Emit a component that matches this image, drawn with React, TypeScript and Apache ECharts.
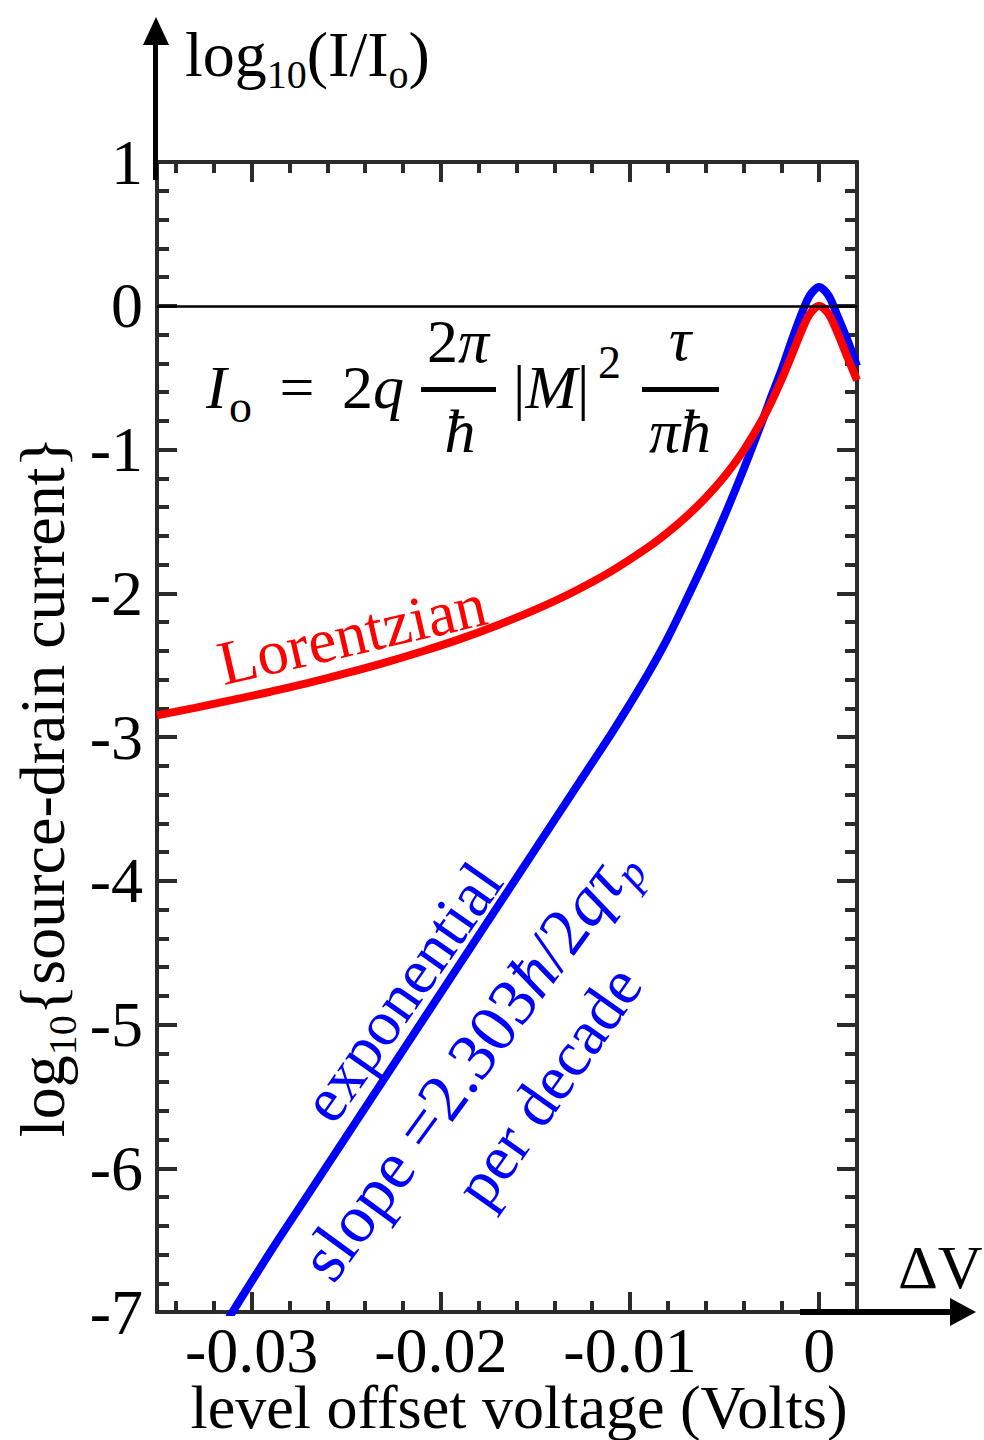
import React, { useEffect, useRef } from 'react';
import * as echarts from 'echarts';

const FONT = '"Liberation Serif", "Times New Roman", serif';
const FRAME = '#2b2b2b';

const X_MIN = -0.035;
const X_MAX = 0.002;
const Y_MIN = -7;
const Y_MAX = 1;

const xMajorTicks = [-0.03, -0.02, -0.01, 0];
const xMinorTicks = [-0.034, -0.032, -0.028, -0.026, -0.024, -0.022, -0.018, -0.016, -0.014, -0.012, -0.008, -0.006, -0.004, -0.002];

// Exponential (blue) curve
const blueX = [-0.0312, -0.029, -0.027, -0.025, -0.023, -0.021, -0.019, -0.017, -0.015, -0.013, -0.012, -0.011, -0.01, -0.009, -0.008, -0.007, -0.006, -0.005, -0.004, -0.003, -0.0025, -0.002, -0.0015, -0.001, -0.0005, 0, 0.0005, 0.001, 0.0015, 0.002];
const blueY = [-7.04, -6.58, -6.18, -5.78, -5.38, -4.98, -4.58, -4.18, -3.78, -3.38, -3.18, -2.98, -2.77, -2.55, -2.31, -2.04, -1.76, -1.46, -1.14, -0.8, -0.62, -0.45, -0.26, -0.08, 0.07, 0.13, 0.07, -0.08, -0.24, -0.42];

// Lorentzian (red) curve
const redX = [-0.035, -0.033, -0.031, -0.029, -0.027, -0.025, -0.023, -0.021, -0.019, -0.017, -0.015, -0.013, -0.011, -0.009, -0.008, -0.007, -0.006, -0.005, -0.004, -0.003, -0.0025, -0.002, -0.0015, -0.001, -0.0005, 0, 0.0005, 0.001, 0.0015, 0.002];
const redY = [-2.85, -2.797, -2.742, -2.685, -2.623, -2.556, -2.484, -2.405, -2.319, -2.222, -2.114, -1.991, -1.848, -1.677, -1.577, -1.464, -1.336, -1.186, -1.008, -0.79, -0.662, -0.518, -0.36, -0.197, -0.058, 0, -0.058, -0.197, -0.36, -0.518];

const xTitle = 'level offset voltage (Volts)';
const yTitle = 'log{s|10}{source-drain current}';
const topLabel = 'log{s|10}(I/I{s|o})';

const tickStyle = { color: FRAME, width: 4 };

function xAxisCfg(position: string, ticks: number[], len: number, labels: boolean) {
  return {
    type: 'value',
    min: X_MIN,
    max: X_MAX,
    position,
    axisLine: { show: true, onZero: false, lineStyle: { color: FRAME, width: 4 } },
    axisTick: { show: true, inside: true, length: len, customValues: ticks, lineStyle: tickStyle },
    axisLabel: labels
      ? {
          show: true,
          customValues: ticks,
          fontFamily: FONT,
          fontSize: 64,
          lineHeight: 54,
          color: '#000',
          margin: 11,
          formatter: (v: number) => String(v),
        }
      : { show: false },
    splitLine: { show: false },
  };
}

function yAxisCfg(position: string, labels: boolean) {
  return {
    type: 'value',
    min: Y_MIN,
    max: Y_MAX,
    interval: 1,
    position,
    axisLine: { show: true, onZero: false, lineStyle: { color: FRAME, width: 4 } },
    axisTick: { show: true, inside: true, length: 20, lineStyle: tickStyle },
    minorTick: { show: true, splitNumber: 5, length: 12, lineStyle: tickStyle },
    axisLabel: labels
      ? { show: true, fontFamily: FONT, fontSize: 64, color: '#000', margin: 14 }
      : { show: false },
    splitLine: { show: false },
    minorSplitLine: { show: false },
  };
}

function txt(text: string, x: number, y: number, extra: any = {}, rotation = 0): any {
  return {
    type: 'text',
    x,
    y,
    rotation,
    z: 50,
    style: {
      text,
      fontFamily: FONT,
      fontSize: 64,
      fill: '#000',
      align: 'left',
      verticalAlign: 'middle',
      ...extra,
    },
  };
}

export default function App() {
  const ref = useRef<HTMLDivElement>(null);

  useEffect(() => {
    if (!ref.current) return;
    const chart = echarts.init(ref.current, undefined, { renderer: 'svg' });

    const eqSize = 62;
    const it = { fontStyle: 'italic' };
    const subRich = { s: { fontFamily: FONT, fontSize: 40, lineHeight: 36, verticalAlign: 'bottom' } };
    const itRich = { i: { fontFamily: FONT, fontSize: eqSize, fontStyle: 'italic' } };

    const graphic: any[] = [
      // y arrow
      { type: 'line', z: 60, shape: { x1: 155.5, y1: 40, x2: 155.5, y2: 180 }, style: { stroke: '#000', lineWidth: 5 } },
      { type: 'polygon', z: 60, shape: { points: [[156, 17], [143, 45], [169, 45]] }, style: { fill: '#000' } },
      // x arrow
      { type: 'line', z: 60, shape: { x1: 800, y1: 1312, x2: 955, y2: 1312 }, style: { stroke: '#000', lineWidth: 6 } },
      { type: 'polygon', z: 60, shape: { points: [[976, 1312], [950, 1298], [950, 1326]] }, style: { fill: '#000' } },
      txt('ΔV', 898, 1267, { fontSize: 62, lineHeight: 60 }),
      // top label
      txt(topLabel, 185, 54, { lineHeight: 80, rich: subRich }),
      // y title
      txt(yTitle, 42, 787, { align: 'center', lineHeight: 80, rich: subRich }, Math.PI / 2),
      // x title
      txt(xTitle, 519, 1407, { align: 'center', fontSize: 62, lineHeight: 54 }),
      // equation
      txt('I', 206, 387, { fontSize: eqSize, ...it }),
      txt('o', 229, 406, { fontSize: 46 }),
      txt('=', 297, 387, { fontSize: eqSize, align: 'center' }),
      txt('2{i|q}', 342, 387, { fontSize: eqSize, rich: itRich }),
      txt('2{i|π}', 458, 341, { fontSize: eqSize, align: 'center', rich: itRich }),
      { type: 'rect', z: 50, shape: { x: 421, y: 387, width: 75, height: 5 }, style: { fill: '#000' } },
      txt('ħ', 460, 431, { fontSize: eqSize, align: 'center', ...it }),
      txt('|{i|M}|', 513, 387, { fontSize: eqSize, rich: itRich }),
      txt('2', 598, 362, { fontSize: 46 }),
      txt('τ', 680, 339, { fontSize: eqSize, align: 'center', ...it }),
      { type: 'rect', z: 50, shape: { x: 642, y: 387, width: 77, height: 5 }, style: { fill: '#000' } },
      txt('πħ', 680, 431, { fontSize: eqSize, align: 'center', ...it }),
      // curve annotations
      txt('Lorentzian', 352, 634, { align: 'center', fontSize: 63, fill: '#ff0000' }, 0.227),
      txt('exponential', 402, 992, { align: 'center', fontSize: 64, fill: '#0000ff' }, 0.96),
      txt('slope =2.303{i|ħ}/2{i|qτ}{p|p}', 468, 1062, {
        align: 'center',
        fontSize: 68,
        fill: '#0000ff',
        lineHeight: 84,
        rich: {
          i: { fontFamily: FONT, fontSize: 68, fontStyle: 'italic', fill: '#0000ff' },
          p: { fontFamily: FONT, fontSize: 44, fontStyle: 'italic', fill: '#0000ff', lineHeight: 38, verticalAlign: 'bottom' },
        },
      }, 0.94),
      txt('per decade', 548, 1086, { align: 'center', fontSize: 64, fill: '#0000ff' }, 0.96),
    ];

    chart.setOption({
      animation: false,
      backgroundColor: '#fff',
      grid: { left: 157, right: 127, top: 162, bottom: 128, containLabel: false },
      xAxis: [
        xAxisCfg('bottom', xMajorTicks, 20, true),
        xAxisCfg('bottom', xMinorTicks, 11, false),
        xAxisCfg('top', xMajorTicks, 20, false),
        xAxisCfg('top', xMinorTicks, 11, false),
      ],
      yAxis: [yAxisCfg('left', true), yAxisCfg('right', false)],
      graphic,
      series: [
        {
          name: 'exponential',
          type: 'line',
          data: blueX.map((x, i) => [x, blueY[i]]),
          showSymbol: false,
          symbol: 'none',
          smooth: 0.3,
          clip: true,
          z: 3,
          lineStyle: { color: '#0000ff', width: 8 },
          markLine: {
            silent: true,
            symbol: ['none', 'none'],
            label: { show: false },
            lineStyle: { color: '#000', width: 2.5, type: 'solid' },
            data: [{ yAxis: 0 }],
          },
        },
        {
          name: 'Lorentzian',
          type: 'line',
          data: redX.map((x, i) => [x, redY[i]]),
          showSymbol: false,
          symbol: 'none',
          smooth: 0.3,
          clip: true,
          z: 4,
          lineStyle: { color: '#ff0000', width: 8 },
        },
      ],
    });

    return () => chart.dispose();
  }, []);

  return (
    <div
      ref={ref}
      style={{ position: 'absolute', left: 0, top: 0, width: 984, height: 1440, background: '#fff' }}
    />
  );
}
